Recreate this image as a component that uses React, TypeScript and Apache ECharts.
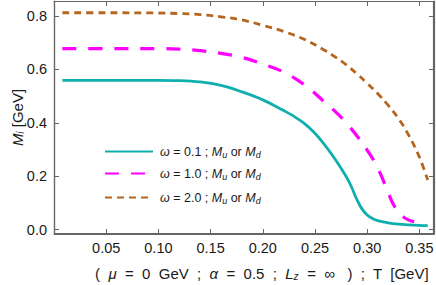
import React, { useEffect, useRef } from "react";
import * as echarts from "echarts";

const tCyan = [0.008, 0.05, 0.10, 0.12, 0.14, 0.16, 0.18, 0.20, 0.22, 0.23, 0.24, 0.25, 0.26, 0.27, 0.28, 0.285, 0.29, 0.295, 0.30, 0.305, 0.31, 0.32, 0.33, 0.34, 0.35, 0.358];
const mCyan = [0.559, 0.559, 0.559, 0.558, 0.553, 0.540, 0.516, 0.486, 0.446, 0.424, 0.397, 0.361, 0.314, 0.260, 0.198, 0.160, 0.114, 0.078, 0.055, 0.042, 0.034, 0.026, 0.021, 0.018, 0.016, 0.015];

const tMagenta = [0.008, 0.05, 0.10, 0.12, 0.14, 0.16, 0.18, 0.20, 0.22, 0.24, 0.26, 0.27, 0.28, 0.29, 0.30, 0.31, 0.32, 0.325, 0.33, 0.335, 0.34, 0.345];
const mMagenta = [0.678, 0.678, 0.678, 0.676, 0.670, 0.660, 0.645, 0.620, 0.590, 0.542, 0.475, 0.440, 0.400, 0.352, 0.298, 0.232, 0.140, 0.095, 0.066, 0.047, 0.036, 0.030];

const tBrown = [0.008, 0.05, 0.10, 0.12, 0.14, 0.16, 0.18, 0.20, 0.22, 0.24, 0.26, 0.27, 0.28, 0.29, 0.30, 0.31, 0.32, 0.33, 0.34, 0.35, 0.358];
const mBrown = [0.812, 0.812, 0.811, 0.809, 0.805, 0.797, 0.785, 0.765, 0.742, 0.712, 0.670, 0.645, 0.617, 0.584, 0.548, 0.510, 0.466, 0.416, 0.352, 0.272, 0.186];

const seriesNames = ["ω = 0.1", "ω = 1.0", "ω = 2.0"];
const legendTexts = [
  "{i|ω} = 0.1 ; {i|M}{s|u} or {i|M}{s|d}",
  "{i|ω} = 1.0 ; {i|M}{s|u} or {i|M}{s|d}",
  "{i|ω} = 2.0 ; {i|M}{s|u} or {i|M}{s|d}",
];
const xTitle = "(  {i|μ}  =  0  GeV  ;  {i|α}  =  0.5  ;  {i|L}{s|z}  =  ∞   )  ;  T  [GeV]";
const yTitle = "{i|M}{s|i} [GeV]";

const xMajor = [0.05, 0.10, 0.15, 0.20, 0.25, 0.30, 0.35];
const yMajor = [0.0, 0.2, 0.4, 0.6, 0.8];

const X_MIN = 0.0;
const X_MAX = 0.364;
const Y_MIN = -0.016;
const Y_MAX = 0.856;

const FONT = "'Liberation Sans', Arial, sans-serif";
const FRAME = "#666666";
const TEXT = "#1a1a1a";

const colors = ["#10AFAF", "#FF00FF", "#B5651D"];

const GRID = { left: 54, right: 2, top: 1, bottom: 51 };
const W = 436;
const H = 285;

function pairs(t: number[], m: number[]) {
  return t.map((v, i) => [v, m[i]]);
}

export default function App() {
  const ref = useRef<HTMLDivElement>(null);
  useEffect(() => {
    if (!ref.current) return;
    const chart = echarts.init(ref.current, undefined, { renderer: "svg" });

    const mkX = (position: "top" | "bottom", labels: boolean, extra: any = {}) => ({
      type: "value",
      position,
      min: X_MIN,
      max: X_MAX,
      axisLine: { show: true, onZero: false, lineStyle: { color: FRAME, width: 1.2 } },
      axisTick: { show: true, inside: true, length: 5, customValues: xMajor, lineStyle: { color: FRAME, width: 1 } },
      axisLabel: labels
        ? { show: true, customValues: xMajor, margin: 6, fontSize: 14.5, fontFamily: FONT, color: TEXT, formatter: (v: number) => v.toFixed(2) }
        : { show: false },
      splitLine: { show: false },
      ...extra,
    });
    const mkY = (position: "left" | "right", labels: boolean, extra: any = {}) => ({
      type: "value",
      position,
      min: Y_MIN,
      max: Y_MAX,
      axisLine: { show: true, onZero: false, lineStyle: { color: FRAME, width: 1.2 } },
      axisTick: { show: true, inside: true, length: 5, customValues: yMajor, lineStyle: { color: FRAME, width: 1 } },
      axisLabel: labels
        ? { show: true, customValues: yMajor, margin: 7, fontSize: 14.5, fontFamily: FONT, color: TEXT, formatter: (v: number) => v.toFixed(1) }
        : { show: false },
      splitLine: { show: false },
      ...extra,
    });

    const richTitle = {
      i: { fontStyle: "italic", fontSize: 15, fontFamily: FONT, color: TEXT },
      s: { fontStyle: "italic", fontSize: 10, fontFamily: FONT, color: TEXT, padding: [6, 0, 0, 0] },
    };

    const legendTops = [140, 162, 186];

    const option: any = {
      animation: false,
      grid: { ...GRID, outerBoundsMode: "none" },
      graphic: [
        {
          type: "rect",
          silent: true,
          z: 0,
          shape: { x: GRID.left + 0.5, y: GRID.top + 0.5, width: W - GRID.left - GRID.right - 1, height: H - GRID.top - GRID.bottom - 1 },
          style: { fill: "none", stroke: FRAME, lineWidth: 1.2 },
        },
      ],
      xAxis: [
        mkX("bottom", true, {
          name: xTitle,
          nameLocation: "middle",
          nameGap: 31,
          nameMoveOverlap: false,
          nameTextStyle: {
            fontSize: 15,
            fontFamily: FONT,
            color: TEXT,
            padding: [0, 0, 0, 36],
            rich: richTitle,
          },
        }),
        mkX("top", false),
      ],
      yAxis: [
        mkY("left", true, {
          name: yTitle,
          nameLocation: "middle",
          nameGap: 29,
          nameMoveOverlap: false,
          nameRotate: 90,
          nameTextStyle: { fontSize: 15, fontFamily: FONT, color: TEXT, rich: richTitle },
        }),
        mkY("right", false),
      ],
      legend: legendTops.map((top, k) => ({
        data: [seriesNames[k]],
        left: 99,
        top,
        itemWidth: 48,
        itemHeight: 14,
        itemGap: 0,
        itemStyle: { color: "transparent", borderWidth: 0, opacity: 0 },
        formatter: () => legendTexts[k],
        textStyle: {
          fontSize: 12.5,
          fontFamily: FONT,
          color: TEXT,
          padding: [0, 0, 0, 2],
          rich: {
            i: { fontStyle: "italic", fontSize: 12.5, fontFamily: FONT, color: TEXT },
            s: { fontStyle: "italic", fontSize: 9, fontFamily: FONT, color: TEXT, padding: [6, 0, 0, 0] },
          },
        },
      })),
      series: [
        {
          name: seriesNames[0],
          type: "line",
          data: pairs(tCyan, mCyan),
          showSymbol: false,
          symbol: "none",
          smooth: 0.4,
          lineStyle: { color: colors[0], width: 2.8, type: "solid" },
          itemStyle: { color: colors[0] },
        },
        {
          name: seriesNames[1],
          type: "line",
          data: pairs(tMagenta, mMagenta),
          showSymbol: false,
          symbol: "none",
          smooth: 0.4,
          lineStyle: { color: colors[1], width: 3.2, type: [14, 12] },
          itemStyle: { color: colors[1] },
        },
        {
          name: seriesNames[2],
          type: "line",
          data: pairs(tBrown, mBrown),
          showSymbol: false,
          symbol: "none",
          smooth: 0.4,
          lineStyle: { color: colors[2], width: 2.8, type: [7, 5] },
          itemStyle: { color: colors[2] },
        },
      ],
    };
    chart.setOption(option);
    return () => chart.dispose();
  }, []);
  return <div ref={ref} style={{ width: W, height: H, position: "absolute", left: 0, top: 0 }} />;
}
